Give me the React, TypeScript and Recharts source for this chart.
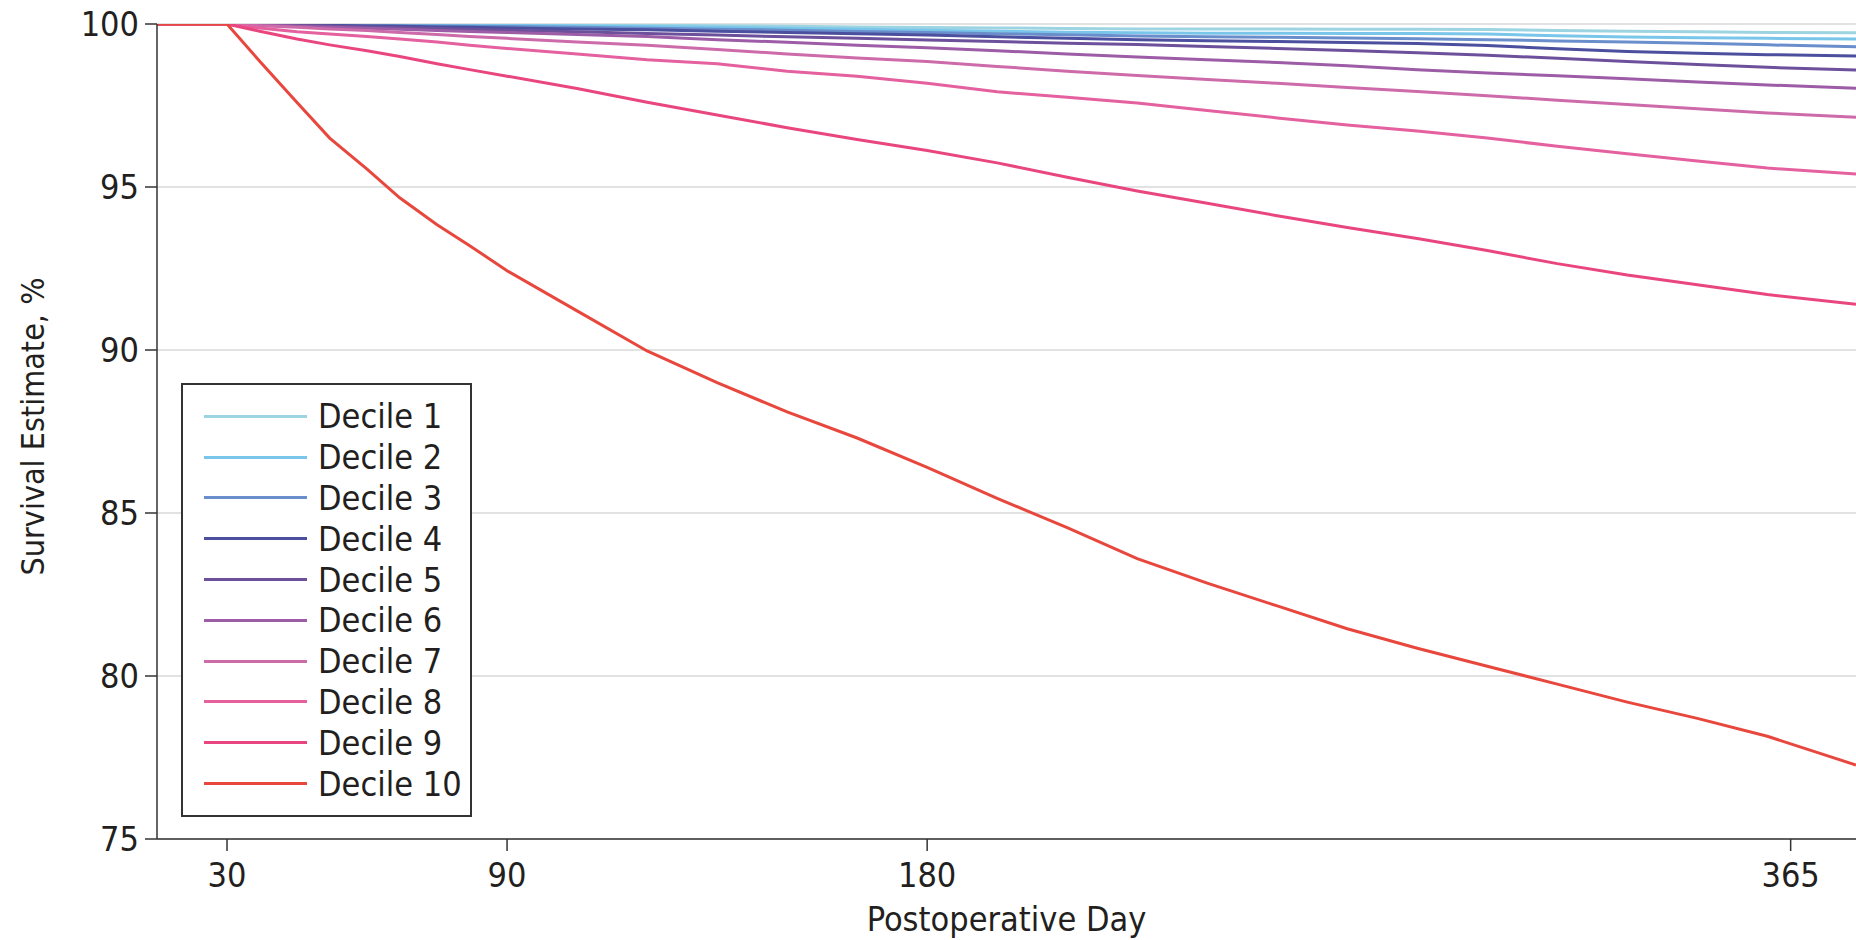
import { CartesianGrid, Label, Legend, Line, LineChart, XAxis, YAxis } from 'recharts'

const DAYS = [15, 30, 37, 45, 52, 60, 67, 75, 82, 90, 105, 120, 135, 150, 165, 180, 195, 210, 225, 240, 255, 270, 285, 300, 315, 330, 345, 360, 379]

const DECILE_1 = [100, 100, 100, 100, 100, 99.99, 99.99, 99.99, 99.99, 99.98, 99.97, 99.96, 99.95, 99.93, 99.91, 99.89, 99.88, 99.86, 99.85, 99.85, 99.85, 99.84, 99.84, 99.83, 99.8, 99.78, 99.76, 99.74, 99.73]
const DECILE_2 = [100, 100, 100, 99.99, 99.99, 99.98, 99.98, 99.97, 99.97, 99.96, 99.94, 99.92, 99.9, 99.87, 99.84, 99.81, 99.78, 99.75, 99.73, 99.72, 99.72, 99.71, 99.71, 99.69, 99.64, 99.6, 99.58, 99.56, 99.54]
const DECILE_3 = [100, 100, 99.99, 99.98, 99.97, 99.96, 99.95, 99.94, 99.93, 99.92, 99.9, 99.87, 99.84, 99.81, 99.77, 99.74, 99.7, 99.67, 99.63, 99.61, 99.59, 99.57, 99.55, 99.52, 99.48, 99.45, 99.41, 99.36, 99.3]
const DECILE_4 = [100, 100, 99.99, 99.97, 99.96, 99.94, 99.93, 99.91, 99.9, 99.88, 99.85, 99.82, 99.78, 99.74, 99.7, 99.66, 99.61, 99.56, 99.52, 99.49, 99.46, 99.43, 99.4, 99.34, 99.24, 99.16, 99.1, 99.06, 99.02]
const DECILE_5 = [100, 100, 99.98, 99.96, 99.94, 99.91, 99.89, 99.86, 99.84, 99.81, 99.76, 99.71, 99.66, 99.61, 99.56, 99.51, 99.46, 99.41, 99.37, 99.31, 99.25, 99.19, 99.12, 99.04, 98.95, 98.85, 98.76, 98.67, 98.59]
const DECILE_6 = [100, 100, 99.97, 99.93, 99.9, 99.87, 99.84, 99.8, 99.77, 99.74, 99.68, 99.62, 99.52, 99.44, 99.35, 99.27, 99.18, 99.08, 98.99, 98.9, 98.82, 98.72, 98.6, 98.5, 98.41, 98.32, 98.22, 98.13, 98.03]
const DECILE_7 = [100, 100, 99.95, 99.9, 99.85, 99.8, 99.74, 99.68, 99.62, 99.56, 99.45, 99.35, 99.22, 99.08, 98.96, 98.85, 98.7, 98.55, 98.42, 98.3, 98.18, 98.05, 97.93, 97.8, 97.66, 97.53, 97.4, 97.27, 97.14]
const DECILE_8 = [100, 100, 99.88, 99.76, 99.69, 99.62, 99.54, 99.45, 99.35, 99.25, 99.08, 98.9, 98.78, 98.55, 98.4, 98.18, 97.92, 97.75, 97.58, 97.35, 97.12, 96.9, 96.72, 96.5, 96.25, 96.02, 95.8, 95.58, 95.4]
const DECILE_9 = [100, 100, 99.78, 99.54, 99.36, 99.18, 99.0, 98.78, 98.6, 98.4, 98.02, 97.6, 97.21, 96.82, 96.46, 96.12, 95.74, 95.3, 94.88, 94.5, 94.12, 93.76, 93.42, 93.05, 92.65, 92.3, 92.0, 91.7, 91.4]
const DECILE_10 = [100, 100, 98.86, 97.59, 96.5, 95.55, 94.67, 93.84, 93.2, 92.43, 91.2, 89.97, 89.0, 88.1, 87.3, 86.4, 85.45, 84.55, 83.6, 82.85, 82.15, 81.45, 80.85, 80.3, 79.75, 79.2, 78.7, 78.15, 77.27]

const X_TICKS = [30, 90, 180, 365]
const Y_TICKS = [75, 80, 85, 90, 95, 100]

const SERIES = [
  { key: 'd1', name: 'Decile 1', values: DECILE_1, color: '#9dd4e2' },
  { key: 'd2', name: 'Decile 2', values: DECILE_2, color: '#7ac6ea' },
  { key: 'd3', name: 'Decile 3', values: DECILE_3, color: '#6a8ecb' },
  { key: 'd4', name: 'Decile 4', values: DECILE_4, color: '#4b4f9e' },
  { key: 'd5', name: 'Decile 5', values: DECILE_5, color: '#6c509b' },
  { key: 'd6', name: 'Decile 6', values: DECILE_6, color: '#9c5ca6' },
  { key: 'd7', name: 'Decile 7', values: DECILE_7, color: '#cd6aa9' },
  { key: 'd8', name: 'Decile 8', values: DECILE_8, color: '#e4609f' },
  { key: 'd9', name: 'Decile 9', values: DECILE_9, color: '#e9467f' },
  { key: 'd10', name: 'Decile 10', values: DECILE_10, color: '#e8473d' },
]

const FONT = "'DejaVu Sans Condensed', 'DejaVu Sans', sans-serif"
const FONT_SIZE = 34
const INK = '#231f20'

const chartData = DAYS.map((day, i) => {
  const row: Record<string, number> = { day }
  SERIES.forEach((s) => {
    row[s.key] = s.values[i]
  })
  return row
})

const seriesOrder = (name: string) => SERIES.findIndex((s) => s.name === name)

function DecileLegend({ payload }: any) {
  const items = [...(payload || [])].sort((a: any, b: any) => seriesOrder(a.value) - seriesOrder(b.value))
  return (
    <div
      style={{
        boxSizing: 'border-box',
        width: 291,
        height: 434,
        border: '2px solid #333',
        background: '#fff',
        padding: '11px 0 0 21px',
        fontFamily: FONT,
        fontStretch: 'condensed',
        fontSize: FONT_SIZE,
        color: INK,
      }}
    >
      {items.map((item: any) => (
        <div key={item.value} style={{ display: 'flex', alignItems: 'center', height: 40.8 }}>
          <span style={{ display: 'inline-block', width: 103, height: 3, background: item.color }} />
          <span style={{ marginLeft: 11, lineHeight: 1 }}>{item.value}</span>
        </div>
      ))}
    </div>
  )
}

function YTitle({ viewBox }: any) {
  const x = viewBox.x + 44
  const y = viewBox.y + viewBox.height / 2 - 5
  return (
    <text
      x={x}
      y={y}
      transform={`rotate(-90 ${x} ${y})`}
      textAnchor="middle"
      fontFamily={FONT}
      fontStretch="condensed"
      fontSize={32}
      fill={INK}
    >
      Survival Estimate, %
    </text>
  )
}

function XTitle({ viewBox }: any) {
  return (
    <text
      x={viewBox.x + viewBox.width / 2}
      y={viewBox.y + 92}
      textAnchor="middle"
      fontFamily={FONT}
      fontStretch="condensed"
      fontSize={FONT_SIZE}
      fill={INK}
    >
      Postoperative Day
    </text>
  )
}

export default function App() {
  const tick = { fill: INK, fontSize: FONT_SIZE, fontFamily: FONT, fontStretch: 'condensed' }
  return (
    <div style={{ position: 'absolute', left: 0, top: 0, width: 1856, height: 940, background: '#fff' }}>
      <LineChart width={1856} height={940} data={chartData} margin={{ top: 24, right: 0, bottom: 0, left: 0 }}>
        <CartesianGrid vertical={false} stroke="#e2e2e2" strokeWidth={2} />
        <XAxis
          dataKey="day"
          type="number"
          domain={[15, 379]}
          ticks={X_TICKS}
          allowDataOverflow
          height={101}
          stroke="#333"
          strokeWidth={1.5}
          tickSize={12}
          tickMargin={12}
          tick={tick}
        >
          <Label content={<XTitle />} />
        </XAxis>
        <YAxis
          type="number"
          domain={[75, 100]}
          ticks={Y_TICKS}
          allowDataOverflow
          width={157}
          stroke="#333"
          strokeWidth={1.5}
          tickSize={12}
          tickMargin={6}
          tick={tick}
        >
          <Label content={<YTitle />} />
        </YAxis>
        <Legend
          layout="vertical"
          align="center"
          verticalAlign="middle"
          content={<DecileLegend />}
          wrapperStyle={{ left: 181, top: 383, width: 291, height: 434 }}
        />
        {SERIES.map((s) => (
          <Line
            key={s.key}
            dataKey={s.key}
            name={s.name}
            stroke={s.color}
            strokeWidth={3}
            dot={false}
            activeDot={false}
            type="linear"
            isAnimationActive={false}
          />
        ))}
      </LineChart>
    </div>
  )
}
